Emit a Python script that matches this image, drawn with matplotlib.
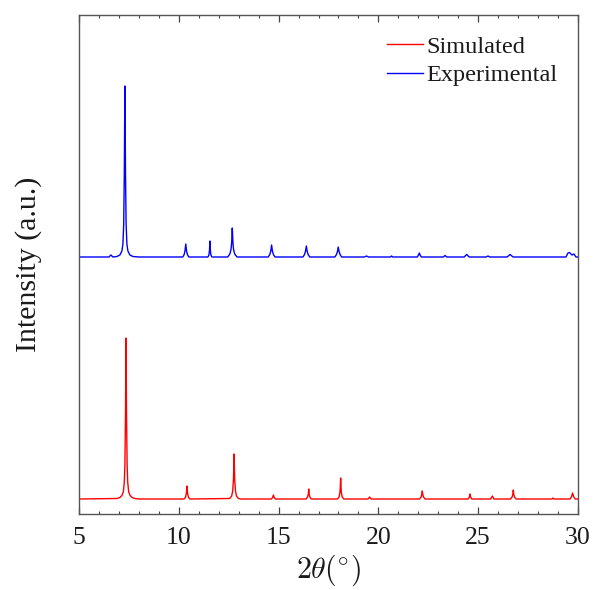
import matplotlib
matplotlib.use("Agg")
import matplotlib.pyplot as plt
from matplotlib.ticker import MultipleLocator

plt.rcParams['font.family'] = ['Liberation Serif', 'DejaVu Serif']
plt.rcParams['mathtext.fontset'] = 'cm'

# Simulated pattern (2theta, intensity a.u.)
sim_x = [5.0, 6.9, 7.05, 7.15, 7.22, 7.27, 7.30, 7.33, 7.355, 7.38, 7.41, 7.44, 7.49, 7.56, 7.66, 7.8, 8.0,
         10.26, 10.33, 10.37, 10.39, 10.41, 10.43, 10.45, 10.49, 10.56,
         12.55, 12.65, 12.70, 12.74, 12.77, 12.80, 12.84, 12.89, 12.99, 13.1,
         14.64, 14.70, 14.74, 14.78, 14.84,
         16.38, 16.45, 16.49, 16.51, 16.53, 16.57, 16.64,
         17.95, 18.03, 18.07, 18.09, 18.11, 18.13, 18.15, 18.19, 18.27,
         19.48, 19.56, 19.64,
         22.06, 22.14, 22.18, 22.2, 22.22, 22.26, 22.34,
         24.5, 24.56, 24.59, 24.62, 24.68,
         25.63, 25.71, 25.79,
         26.62, 26.70, 26.74, 26.76, 26.78, 26.82, 26.90,
         28.7, 28.75, 28.8,
         29.6, 29.68, 29.73, 29.78, 29.86, 30.0]
sim_y = [15, 15.5, 16.5, 18.5, 22, 32, 50, 100, 176, 100, 50, 32, 22, 18.5, 16.5, 15.5, 15,
         15, 16.5, 19.5, 23, 28, 23, 19.5, 16.5, 15,
         15.5, 18, 23, 35, 60, 35, 23, 18, 15.5, 15,
         15, 16.5, 19, 16.5, 15,
         15, 17, 20, 25, 20, 17, 15,
         15, 17, 21, 26, 36, 26, 21, 17, 15,
         15, 17, 15,
         15, 17, 20, 23, 20, 17, 15,
         15, 17, 20, 17, 15,
         15, 18, 15,
         15, 17, 20, 24, 20, 17, 15,
         15, 16, 15,
         15, 17.5, 21, 17.5, 15, 15]

# Experimental pattern (2theta, intensity a.u., offset)
exp_x = [5.0, 6.5, 6.6, 6.7, 6.9, 7.05, 7.15, 7.2, 7.24, 7.27, 7.30, 7.33, 7.36, 7.40, 7.45, 7.55, 7.7, 8.0,
         10.2, 10.27, 10.31, 10.35, 10.39, 10.43, 10.5,
         11.46, 11.51, 11.54, 11.56, 11.58, 11.61, 11.66,
         12.45, 12.56, 12.62, 12.65, 12.68, 12.71, 12.74, 12.80, 12.92,
         14.48, 14.56, 14.61, 14.65, 14.69, 14.74, 14.82,
         16.22, 16.30, 16.35, 16.39, 16.43, 16.48, 16.56,
         17.82, 17.90, 17.95, 17.99, 18.03, 18.08, 18.16,
         19.3, 19.41, 19.5,
         20.6, 20.66, 20.72,
         21.95, 22.01, 22.05, 22.09, 22.15,
         23.25, 23.34, 23.42,
         24.3, 24.42, 24.55,
         25.4, 25.49, 25.58,
         26.45, 26.6, 26.75,
         29.4, 29.5, 29.58, 29.7, 29.8, 29.9, 30.0]
exp_y = [257, 257, 259, 257, 257.5, 259, 263, 270, 290, 340, 428, 340, 290, 270, 263, 259, 257.5, 257,
         257, 259.5, 263, 270, 263, 259.5, 257,
         257, 259, 264, 273, 264, 259, 257,
         257, 260, 265, 272, 286, 272, 265, 260, 257,
         257, 259.5, 263, 269, 263, 259.5, 257,
         257, 259.5, 263, 268, 263, 259.5, 257,
         257, 259.5, 262.5, 267, 262.5, 259.5, 257,
         257, 258, 257,
         257, 258, 257,
         257, 259, 261, 259, 257,
         257, 258.5, 257,
         257, 259.5, 257,
         257, 258, 257,
         257, 259.5, 257,
         257, 261, 261.5, 259, 260, 257, 257]

series_labels = ['Simulated', 'Experimental']

fig = plt.figure(figsize=(5.94, 5.90), dpi=100)
ax = fig.add_axes([0.133, 0.1288, 0.840, 0.8458])
ax.plot(sim_x, sim_y, color='#ff0000', lw=1.0, label=series_labels[0])
ax.plot(exp_x, exp_y, color='#0000ff', lw=1.0, label=series_labels[1])

ax.set_xlim(5, 30)
ax.set_ylim(0, 499)
ax.set_yticks([])
ax.xaxis.set_major_locator(MultipleLocator(5))
ax.xaxis.set_minor_locator(MultipleLocator(1))
ax.tick_params(axis='x', which='both', direction='in', top=True, colors='#444444',
               labelcolor='#1a1a1a', labelsize=18.5, pad=9)
ax.tick_params(axis='x', which='major', length=5, width=0.9)
ax.tick_params(axis='x', which='minor', length=2.5, width=0.8)
for s in ax.spines.values():
    s.set_color('#555555')
    s.set_linewidth(1.0)

ax.set_xlabel(r'$2\theta(^{\circ})$', fontsize=21.5, color='#1a1a1a', labelpad=3)
ax.set_ylabel('Intensity (a.u.)', fontsize=21.5, color='#1a1a1a', labelpad=27)

leg = ax.legend(loc='upper right', frameon=False, fontsize=17.5, handlelength=1.45,
                handletextpad=0.15, labelspacing=0.27, borderaxespad=0.45)
for t in leg.get_texts():
    t.set_color('#1a1a1a')

fig.savefig('out.png', dpi=100)
